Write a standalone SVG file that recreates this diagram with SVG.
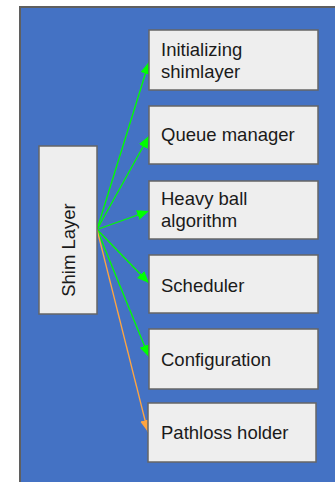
<svg xmlns="http://www.w3.org/2000/svg" width="335" height="482" viewBox="0 0 335 482">
  <defs>
    <style>
      .panel { fill: #4472c4; stroke: #5f5f5f; stroke-width: 2; }
      .box { fill: #eeeeee; stroke: #666666; stroke-width: 1.5; }
      .lbl { font-family: "Liberation Sans", Arial, sans-serif; font-size: 18.5px; fill: #1a1a1a; }
      .edge { fill: none; stroke-width: 1.3; }
      .green { stroke: #00ff00; }
      .orange { stroke: #ffa540; }
    </style>
    <marker id="arrowGreen" markerUnits="userSpaceOnUse" markerWidth="13" markerHeight="11" refX="12" refY="5" orient="auto">
      <path d="M0,0 L12,5 L0,10 z" fill="#00ff00"/>
    </marker>
    <marker id="arrowOrange" markerUnits="userSpaceOnUse" markerWidth="13" markerHeight="11" refX="12" refY="5" orient="auto">
      <path d="M0,0 L12,5 L0,10 z" fill="#ffa540"/>
    </marker>
  </defs>

  <rect width="335" height="482" fill="#ffffff"/>
  <!-- background panel -->
  <rect class="panel" x="20" y="7" width="330" height="490"/>

  <g id="connectors">
    <line class="edge green" x1="97" y1="229.5" x2="149" y2="62" marker-end="url(#arrowGreen)"/>
    <line class="edge green" x1="97" y1="229.5" x2="149" y2="136" marker-end="url(#arrowGreen)"/>
    <line class="edge green" x1="97" y1="229.5" x2="149" y2="211" marker-end="url(#arrowGreen)"/>
    <line class="edge green" x1="97" y1="229.5" x2="149" y2="283" marker-end="url(#arrowGreen)"/>
    <line class="edge green" x1="97" y1="229.5" x2="149" y2="357" marker-end="url(#arrowGreen)"/>
    <line class="edge orange" x1="97" y1="229.5" x2="148" y2="432" marker-end="url(#arrowOrange)"/>
  </g>

  <g id="shim-layer">
    <rect class="box" x="39" y="146" width="58" height="168"/>
    <text class="lbl" transform="translate(75 250) rotate(-90)" text-anchor="middle">Shim Layer</text>
  </g>

  <g id="initializing-shimlayer">
    <rect class="box" x="149" y="30" width="169" height="60"/>
    <text class="lbl" x="161" y="56">Initializing</text>
    <text class="lbl" x="161" y="77.5">shimlayer</text>
  </g>

  <g id="queue-manager">
    <rect class="box" x="149" y="106" width="169" height="58"/>
    <text class="lbl" x="161" y="140.5">Queue manager</text>
  </g>

  <g id="heavy-ball-algorithm">
    <rect class="box" x="149" y="181" width="169" height="58"/>
    <text class="lbl" x="161" y="205">Heavy ball</text>
    <text class="lbl" x="161" y="226.5">algorithm</text>
  </g>

  <g id="scheduler">
    <rect class="box" x="149" y="255" width="169" height="58"/>
    <text class="lbl" x="161" y="291.5">Scheduler</text>
  </g>

  <g id="configuration">
    <rect class="box" x="149" y="329" width="169" height="60"/>
    <text class="lbl" x="161" y="365.5">Configuration</text>
  </g>

  <g id="pathloss-holder">
    <rect class="box" x="148" y="403" width="168" height="59"/>
    <text class="lbl" x="161" y="439">Pathloss holder</text>
  </g>
</svg>
